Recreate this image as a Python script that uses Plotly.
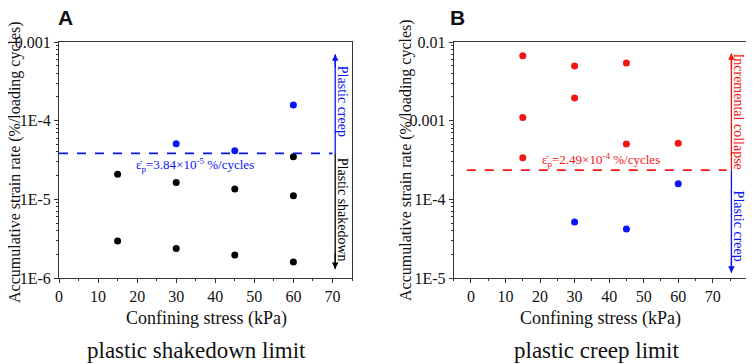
import plotly.graph_objects as go
import math

# ---------------- data ----------------
# Panel A: plastic shakedown limit
a_blue_x = [30, 45, 60]
a_blue_y = [5.1e-5, 4.15e-5, 1.58e-4]
a_black_x = [60, 15, 30, 45, 60, 15, 30, 45, 60]
a_black_y = [3.48e-5, 2.08e-5, 1.64e-5, 1.35e-5, 1.11e-5, 2.95e-6, 2.38e-6, 1.96e-6, 1.6e-6]
a_limit = 3.84e-5
a_limit_x = [0, 70]
a_arrow_x = 70.7
a_arrow_top = 7e-4
a_arrow_bottom = 1.3e-6

# Panel B: plastic creep limit
b_red_x = [15, 30, 45, 30, 15, 45, 60, 15]
b_red_y = [6.7e-3, 4.94e-3, 5.4e-3, 1.94e-3, 1.1e-3, 5.04e-4, 5.15e-4, 3.38e-4]
b_blue_x = [60, 30, 45]
b_blue_y = [1.58e-4, 5.15e-5, 4.2e-5]
b_limit = 2.35e-4
b_limit_x = [-1.2, 74]
b_arrow_x = 75.4
b_arrow_top = 7.2e-3
b_arrow_bottom = 1.17e-5

a_yticks = [1e-6, 1e-5, 1e-4, 1e-3]
a_yticktext = ["1E-6", "1E-5", "1E-4", "0.001"]
b_yticks = [1e-5, 1e-4, 1e-3, 1e-2]
b_yticktext = ["1E-5", "1E-4", "0.001", "0.01"]
a_xticks = [0, 10, 20, 30, 40, 50, 60, 70]
b_xticks = [0, 10, 20, 30, 40, 50, 60, 70, 80]

BLUE = "#0a14f5"
RED = "#f51414"
BLACK = "#000000"
SERIF = "Liberation Serif"

# page body has an 8px margin: figure is offset by 8px in the window
OFF = 8
W, H = 746, 356
def px_x(p): return (p - OFF) / W
def px_y(p): return 1 - (p - OFF) / H

fig = go.Figure()

mk = dict(size=7, line=dict(width=0))
fig.add_trace(go.Scatter(x=a_blue_x, y=a_blue_y, mode="markers", marker=dict(color=BLUE, **mk), xaxis="x", yaxis="y"))
fig.add_trace(go.Scatter(x=a_black_x, y=a_black_y, mode="markers", marker=dict(color=BLACK, **mk), xaxis="x", yaxis="y"))
fig.add_trace(go.Scatter(x=a_limit_x, y=[a_limit, a_limit], mode="lines", line=dict(color=BLUE, width=1.8, dash="dash"), xaxis="x", yaxis="y"))
fig.add_trace(go.Scatter(x=[a_arrow_x, a_arrow_x], y=[a_limit, a_arrow_top], mode="lines", line=dict(color=BLUE, width=1.3), xaxis="x", yaxis="y"))
fig.add_trace(go.Scatter(x=[a_arrow_x, a_arrow_x], y=[a_limit, a_arrow_bottom], mode="lines", line=dict(color=BLACK, width=1.3), xaxis="x", yaxis="y"))

fig.add_trace(go.Scatter(x=b_red_x, y=b_red_y, mode="markers", marker=dict(color=RED, **mk), xaxis="x2", yaxis="y2"))
fig.add_trace(go.Scatter(x=b_blue_x, y=b_blue_y, mode="markers", marker=dict(color=BLUE, **mk), xaxis="x2", yaxis="y2"))
fig.add_trace(go.Scatter(x=b_limit_x, y=[b_limit, b_limit], mode="lines", line=dict(color=RED, width=1.8, dash="dash"), xaxis="x2", yaxis="y2"))
fig.add_trace(go.Scatter(x=[b_arrow_x, b_arrow_x], y=[b_limit, b_arrow_top], mode="lines", line=dict(color=RED, width=1.3), xaxis="x2", yaxis="y2"))
fig.add_trace(go.Scatter(x=[b_arrow_x, b_arrow_x], y=[b_limit, b_arrow_bottom], mode="lines", line=dict(color=BLUE, width=1.3), xaxis="x2", yaxis="y2"))

def minor_vals(lo, hi):
    out = []
    for e in range(lo, hi):
        for k in range(2, 10):
            out.append(k * 10 ** e)
    return out

ax_common = dict(showline=True, linecolor="#333", linewidth=1, mirror=True, ticks="outside",
                 ticklen=4, tickcolor="#333", showgrid=False, zeroline=False, automargin=False,
                 tickfont=dict(family=SERIF, size=16, color="#111"))
ydom = [px_y(278), px_y(42)]

fig.update_layout(
    width=W, height=H, margin=dict(l=0, r=0, t=0, b=0),
    paper_bgcolor="white", plot_bgcolor="white", showlegend=False,
    font=dict(family=SERIF),
    xaxis=dict(domain=[px_x(59), px_x(352)], range=[0, 75], tickvals=a_xticks, anchor="y",
               minor=dict(ticks="outside", ticklen=2, dtick=5, tickcolor="#333"), **ax_common),
    yaxis=dict(domain=ydom, type="log", range=[-6, -3], tickvals=a_yticks, ticktext=a_yticktext, anchor="x",
               minor=dict(ticks="outside", ticklen=2, tickvals=minor_vals(-6, -3), tickcolor="#333"), **ax_common),
    xaxis2=dict(domain=[px_x(453.7), min(1, px_x(747.3))], range=[-5, 80], tickvals=b_xticks, anchor="y2",
                minor=dict(ticks="outside", ticklen=2, dtick=5, tick0=0, tickcolor="#333"), **ax_common),
    yaxis2=dict(domain=ydom, type="log", range=[-5, -2], tickvals=b_yticks, ticktext=b_yticktext, anchor="x2",
                minor=dict(ticks="outside", ticklen=2, tickvals=minor_vals(-5, -2), tickcolor="#333"), **ax_common),
)

ann = []
# arrowheads
for xr, yr, x, y0, y1, c in [
    ("x", "y", a_arrow_x, a_limit, a_arrow_top, BLUE),
    ("x", "y", a_arrow_x, a_limit, a_arrow_bottom, BLACK),
    ("x2", "y2", b_arrow_x, b_limit, b_arrow_top, RED),
    ("x2", "y2", b_arrow_x, b_limit, b_arrow_bottom, BLUE),
]:
    ann.append(dict(xref=xr, yref=yr, axref=xr, ayref=yr, x=x, y=math.log10(y1), ax=x,
                    ay=math.log10(y1) + (math.log10(y0) - math.log10(y1)) * 0.15,
                    text="", showarrow=True, arrowhead=2, arrowsize=1, arrowwidth=1.3, arrowcolor=c))

def txt(xref, x, y, text, size, color, angle=0, family=SERIF, xshift=0):
    return dict(xref=xref, yref="paper", x=x, y=y, text=text, textangle=angle, showarrow=False,
                xanchor="center", yanchor="middle", xshift=xshift,
                font=dict(family=family, size=size, color=color))

# rotated side labels
ann.append(txt("x", a_arrow_x, px_y(101), "Plastic creep", 14, BLUE, 90, xshift=8))
ann.append(txt("x", a_arrow_x, px_y(210), "Plastic shakedown", 14, BLACK, 90, xshift=8))
ann.append(txt("x2", b_arrow_x, px_y(112), "Incremental collapse", 14, RED, 90, xshift=8))
ann.append(txt("x2", b_arrow_x, px_y(226), "Plastic creep", 14, BLUE, 90, xshift=8))

# limit labels
ann.append(txt("x", 34.7, px_y(165), "ε\u0307<sub>p</sub>=3.84×10<sup>-5</sup> %/cycles", 13, BLUE))
ann.append(txt("x2", 37.7, px_y(160), "ε\u0307<sub>p</sub>=2.49×10<sup>-4</sup> %/cycles", 13, RED))

# axis titles
ann.append(txt("paper", px_x(15), px_y(162), "Accumulative strain rate (%/loading cycles)", 16, "#111", -90))
ann.append(txt("paper", px_x(406), px_y(160), "Accumulative strain rate (%/loading cycles)", 16, "#111", -90))
ann.append(txt("paper", px_x(206), px_y(318), "Confining stress (kPa)", 18, "#111"))
ann.append(txt("paper", px_x(600), px_y(318), "Confining stress (kPa)", 18, "#111"))
# bottom captions
ann.append(txt("paper", px_x(196), px_y(350), "plastic shakedown limit", 23, "#111"))
ann.append(txt("paper", px_x(596), px_y(350), "plastic creep limit", 23, "#111"))
# panel letters
ann.append(txt("paper", px_x(65), px_y(18), "<b>A</b>", 21, "#111", family="Liberation Sans"))
ann.append(txt("paper", px_x(458), px_y(18), "<b>B</b>", 21, "#111", family="Liberation Sans"))

fig.update_layout(annotations=ann)
fig.write_html("out.html")
